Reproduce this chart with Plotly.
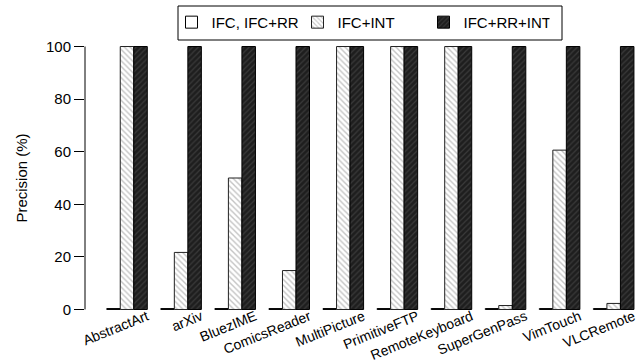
import plotly.graph_objects as go

apps = ["AbstractArt", "arXiv", "BluezIME", "ComicsReader", "MultiPicture",
        "PrimitiveFTP", "RemoteKeyboard", "SuperGenPass", "VimTouch", "VLCRemote"]
ifc_rr = [0, 0, 0, 0, 0, 0, 0, 0, 0, 0]
ifc_int = [100, 21.7, 50, 14.8, 100, 100, 100, 1.5, 60.6, 2.3]
ifc_rr_int = [100, 100, 100, 100, 100, 100, 100, 100, 100, 100]
series_names = ["IFC, IFC+RR", "IFC+INT", "IFC+RR+INT"]
y_ticks = [0, 20, 40, 60, 80, 100]

FONT = "Liberation Sans, Arial, Helvetica, sans-serif"
MIN_VISIBLE = 0.35  # zero-height bars are drawn as a flat outline, like R's barplot

def shown(vals):
    return [max(v, MIN_VISIBLE) for v in vals]

fig = go.Figure()
fig.add_trace(go.Bar(
    x=apps, y=shown(ifc_rr), name=series_names[0],
    customdata=ifc_rr, hovertemplate="%{x}: %{customdata}<extra></extra>",
    marker=dict(color="white", line=dict(color="black", width=1)),
))
fig.add_trace(go.Bar(
    x=apps, y=shown(ifc_int), name=series_names[1],
    customdata=ifc_int, hovertemplate="%{x}: %{customdata}<extra></extra>",
    marker=dict(color="white", line=dict(color="#222", width=1),
                pattern=dict(shape="\\", fgcolor="#8a8a8a", bgcolor="white",
                             size=4, solidity=0.35)),
))
fig.add_trace(go.Bar(
    x=apps, y=shown(ifc_rr_int), name=series_names[2],
    customdata=ifc_rr_int, hovertemplate="%{x}: %{customdata}<extra></extra>",
    marker=dict(color="#222", line=dict(color="black", width=1),
                pattern=dict(shape="/", fgcolor="#555", bgcolor="#1e1e1e",
                             size=4, solidity=0.3)),
))

# y axis line spanning only the data range (R style)
fig.add_shape(type="line", xref="paper", yref="y", x0=0, x1=0,
              y0=y_ticks[0], y1=y_ticks[-1], line=dict(color="black", width=1))
# legend frame
fig.add_shape(type="rect", xref="paper", yref="paper",
              x0=0.1688, x1=0.8657, y0=0.9859, y1=1.1056,
              line=dict(color="black", width=1), fillcolor="rgba(0,0,0,0)")

fig.update_layout(
    width=636, height=364,
    margin=dict(l=85, r=0, t=36, b=44, autoexpand=False),
    paper_bgcolor="white", plot_bgcolor="white",
    barmode="group", bargap=0.25, bargroupgap=0,
    font=dict(family=FONT, size=15, color="black"),
    showlegend=True,
    legend=dict(orientation="h", x=0.157, y=1.106, xanchor="left", yanchor="top",
                borderwidth=0, bgcolor="rgba(0,0,0,0)", font=dict(size=15),
                entrywidth=81, itemwidth=30, traceorder="normal"),
    xaxis=dict(type="category", range=[-0.777, 9.413], showline=False,
               showgrid=False, zeroline=False, ticks="", tickangle=-22,
               tickfont=dict(size=14), ticklabelshift=20, ticklabelstandoff=-15),
    yaxis=dict(range=[-4, 104], tickvals=y_ticks, showline=False, showgrid=False,
               zeroline=False, ticks="outside", ticklen=10, tickcolor="black",
               tickwidth=1, tickfont=dict(size=15),
               title=dict(text="Precision (%)", font=dict(size=15), standoff=14)),
)

fig.write_html("out.html", config={"displayModeBar": False},
               post_script="document.body.style.margin='0';document.body.style.overflow='hidden';")
